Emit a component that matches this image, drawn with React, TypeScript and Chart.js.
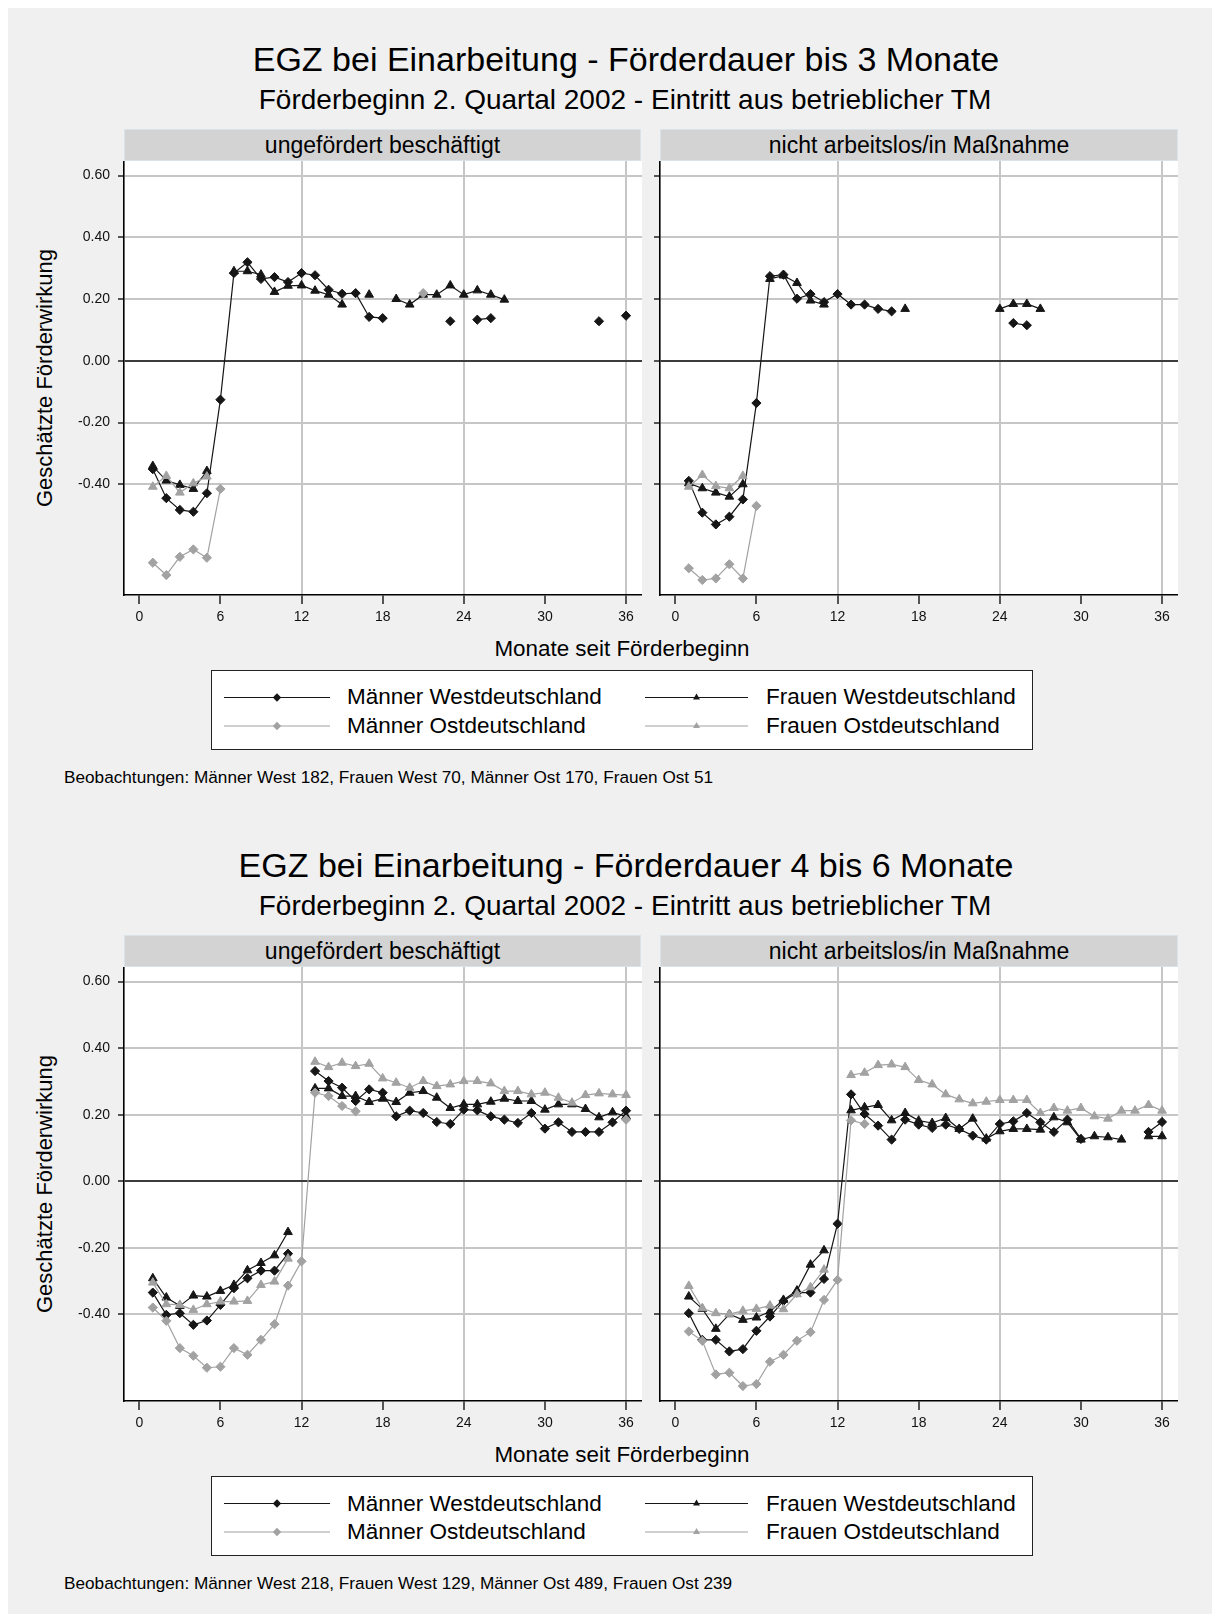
import React, { useEffect, useRef } from "react";
import { Chart, registerables } from "chart.js";
Chart.register(...registerables);

const FONT = '"Liberation Sans", Arial, Helvetica, sans-serif';

// ---------- categories / ticks ----------
const months = [1, 2, 3, 4, 5, 6, 7, 8, 9, 10, 11, 12, 13, 14, 15, 16, 17, 18, 19, 20, 21, 22, 23, 24, 25, 26, 27, 28, 29, 30, 31, 32, 33, 34, 35, 36];
const xTicks = [0, 6, 12, 18, 24, 30, 36];
const xGridAt = [12, 24, 36];
const yTicks = [-0.4, -0.2, 0, 0.2, 0.4, 0.6];
const seriesNames = ["Männer Westdeutschland", "Frauen Westdeutschland", "Männer Ostdeutschland", "Frauen Ostdeutschland"];

// ---------- Figure 1: Förderdauer bis 3 Monate ----------
// left panel: ungefördert beschäftigt
const f1L_mw = [-0.351, -0.445, -0.483, -0.489, -0.429, -0.126, 0.284, 0.319, 0.265, 0.271, 0.255, 0.284, 0.277, 0.230, 0.217, 0.219, 0.142, 0.138, null, null, null, null, 0.128, null, 0.133, 0.138, null, null, null, null, null, null, null, 0.128, null, 0.146];
const f1L_fw = [-0.341, -0.388, -0.402, -0.415, -0.357, null, 0.290, 0.290, 0.279, 0.223, 0.243, 0.244, 0.227, 0.214, 0.182, null, 0.214, null, 0.200, 0.182, 0.214, 0.214, 0.244, 0.214, 0.228, 0.214, 0.198, null, null, null, null, null, null, null, null, null];
const f1L_mo = [-0.654, -0.694, -0.635, -0.611, -0.638, -0.415, null, null, null, null, null, null, null, null, null, null, null, null, null, null, 0.219, null, null, null, null, null, null, null, null, null, null, null, null, null, null, null];
const f1L_fo = [-0.408, -0.373, -0.427, -0.397, -0.375, null, null, null, null, null, null, null, null, null, null, null, null, null, null, null, null, null, null, null, null, null, null, null, null, null, null, null, null, null, null, null];
// right panel: nicht arbeitslos/in Maßnahme
const f1R_mw = [-0.389, -0.492, -0.530, -0.505, -0.449, -0.137, 0.274, 0.279, 0.201, 0.216, 0.190, 0.216, 0.182, 0.182, 0.168, 0.160, null, null, null, null, null, null, null, null, 0.122, 0.115, null, null, null, null, null, null, null, null, null, null];
const f1R_fw = [-0.397, -0.413, -0.427, -0.440, -0.400, null, 0.265, 0.276, 0.252, 0.195, 0.182, null, null, null, null, null, 0.168, null, null, null, null, null, null, 0.168, 0.184, 0.184, 0.168, null, null, null, null, null, null, null, null, null];
const f1R_mo = [-0.672, -0.710, -0.705, -0.659, -0.705, -0.470, null, null, null, null, null, null, null, null, null, null, null, null, null, null, null, null, null, null, null, null, null, null, null, null, null, null, null, null, null, null];
const f1R_fo = [-0.408, -0.370, -0.406, -0.413, -0.373, null, null, null, null, null, null, null, null, null, null, null, null, null, null, null, null, null, null, null, null, null, null, null, null, null, null, null, null, null, null, null];

// ---------- Figure 2: Förderdauer 4 bis 6 Monate ----------
const f2L_mw = [-0.335, -0.402, -0.397, -0.432, -0.419, -0.372, -0.322, -0.292, -0.269, -0.269, -0.218, null, 0.331, 0.301, 0.281, 0.241, 0.276, 0.266, 0.195, 0.212, 0.205, 0.178, 0.172, 0.215, 0.213, 0.195, 0.185, 0.175, 0.205, 0.158, 0.177, 0.148, 0.148, 0.148, 0.177, 0.212];
const f2L_fw = [-0.292, -0.350, -0.375, -0.344, -0.347, -0.330, -0.312, -0.268, -0.246, -0.223, -0.153, null, 0.279, 0.279, 0.256, 0.256, 0.238, 0.248, 0.238, 0.266, 0.271, 0.251, 0.220, 0.231, 0.231, 0.239, 0.248, 0.241, 0.241, 0.215, 0.231, 0.231, 0.217, 0.192, 0.207, 0.195];
const f2L_mo = [-0.380, -0.420, -0.502, -0.525, -0.561, -0.558, -0.502, -0.522, -0.477, -0.430, -0.314, -0.241, 0.266, 0.256, 0.226, 0.210, null, null, null, null, null, null, null, null, null, null, null, null, null, null, null, null, null, null, null, 0.185];
const f2L_fo = [-0.305, -0.370, -0.372, -0.387, -0.370, -0.362, -0.362, -0.360, -0.312, -0.302, -0.233, null, 0.359, 0.343, 0.356, 0.346, 0.353, 0.309, 0.296, 0.281, 0.301, 0.286, 0.291, 0.301, 0.301, 0.294, 0.271, 0.271, 0.261, 0.266, 0.251, 0.236, 0.259, 0.264, 0.261, 0.259];
const f2R_mw = [-0.397, -0.477, -0.477, -0.512, -0.505, -0.450, -0.407, -0.360, -0.335, -0.335, -0.294, -0.128, 0.261, 0.202, 0.167, 0.125, 0.185, 0.170, 0.160, 0.170, 0.157, 0.137, 0.125, 0.172, 0.180, 0.205, 0.177, 0.148, 0.185, 0.127, null, null, null, null, 0.148, 0.178];
const f2R_fw = [-0.347, -0.384, -0.444, -0.400, -0.417, -0.410, -0.392, -0.357, -0.329, -0.251, -0.208, null, 0.213, 0.222, 0.229, 0.183, 0.205, 0.182, 0.175, 0.190, 0.157, 0.188, 0.128, 0.150, 0.157, 0.157, 0.155, 0.192, 0.177, 0.125, 0.135, 0.132, 0.125, null, 0.135, 0.135];
const f2R_mo = [-0.452, -0.480, -0.581, -0.576, -0.616, -0.610, -0.543, -0.522, -0.480, -0.454, -0.357, -0.297, 0.183, 0.172, null, null, null, null, null, null, null, null, null, null, null, null, null, null, null, null, null, null, null, null, null, null];
const f2R_fo = [-0.315, -0.382, -0.397, -0.400, -0.390, -0.384, -0.374, -0.385, -0.340, -0.319, -0.266, null, 0.319, 0.326, 0.349, 0.351, 0.343, 0.304, 0.291, 0.261, 0.246, 0.234, 0.239, 0.244, 0.244, 0.244, 0.205, 0.220, 0.212, 0.220, 0.195, 0.188, 0.212, 0.212, 0.229, 0.212];

// ---------- styles ----------
const BLACK = "#161616";
const GRAY = "#a2a2a2";
const styles = [
  { color: BLACK, point: "rectRot", r: 4.6 },
  { color: BLACK, point: "triangle", r: 5 },
  { color: GRAY, point: "rectRot", r: 4.6 },
  { color: GRAY, point: "triangle", r: 5 },
];

const X_AXIS_H = 40;
const PLOT_H = 434;
const X_MIN = -1.13;
const X_MAX = 37.18;

const plotBg = {
  id: "plotBg",
  beforeDraw(chart: any) {
    const { ctx, chartArea: a } = chart;
    ctx.save();
    ctx.fillStyle = "#ffffff";
    ctx.fillRect(a.left, a.top, a.right - a.left, a.bottom - a.top);
    ctx.restore();
  },
};

type PanelProps = {
  plotLeft: number;
  plotTop: number;
  plotW: number;
  yAxisW: number;
  yMin: number;
  yMax: number;
  showLabels: boolean;
  series: (number | null)[][];
};

function Panel({ plotLeft, plotTop, plotW, yAxisW, yMin, yMax, showLabels, series }: PanelProps) {
  const ref = useRef<HTMLCanvasElement>(null);
  const cw = yAxisW + plotW;
  const ch = PLOT_H + X_AXIS_H;
  useEffect(() => {
    const order = [3, 2, 1, 0];
    const datasets = order.map((k) => ({
      label: seriesNames[k],
      data: months.map((m, i) => ({ x: m, y: series[k][i] })),
      borderColor: styles[k].color,
      backgroundColor: styles[k].color,
      pointBackgroundColor: styles[k].color,
      pointBorderColor: styles[k].color,
      pointBorderWidth: 1,
      pointStyle: styles[k].point,
      pointRadius: styles[k].r,
      borderWidth: 1.2,
      tension: 0,
      spanGaps: false,
      fill: false,
    }));
    const chart = new Chart(ref.current as HTMLCanvasElement, {
      type: "line",
      data: { datasets } as any,
      options: {
        animation: false,
        responsive: false,
        maintainAspectRatio: false,
        events: [],
        layout: { padding: 0, autoPadding: false } as any,
        plugins: { legend: { display: false }, tooltip: { enabled: false }, title: { display: false } },
        scales: {
          x: {
            type: "linear",
            min: X_MIN,
            max: X_MAX,
            afterBuildTicks: (s: any) => {
              s.ticks = xTicks.map((v) => ({ value: v }));
            },
            afterFit: (s: any) => {
              s.height = X_AXIS_H;
              s.paddingLeft = 0;
              s.paddingRight = 0;
            },
            grid: {
              color: (c: any) => (c.tick && xGridAt.includes(c.tick.value) ? "#c6c6c6" : "rgba(0,0,0,0)"),
              lineWidth: 2,
              tickColor: "#000",
              tickWidth: 1.3,
              tickLength: 9,
            },
            border: { display: true, color: "#000", width: 1.6 },
            ticks: {
              padding: 5,
              color: "#111",
              font: { family: FONT, size: 14 },
              maxRotation: 0,
              autoSkip: false,
              callback: (v: any) => String(v),
            },
          },
          y: {
            type: "linear",
            min: yMin,
            max: yMax,
            afterBuildTicks: (s: any) => {
              s.ticks = yTicks.map((v) => ({ value: v }));
            },
            afterFit: (s: any) => {
              s.width = yAxisW;
              s.paddingTop = 0;
              s.paddingBottom = 0;
            },
            grid: {
              color: (c: any) => (c.tick && Math.abs(c.tick.value) < 1e-9 ? "#3c3c3c" : "#c6c6c6"),
              lineWidth: 2,
              tickColor: "#000",
              tickWidth: 1.3,
              tickLength: 6,
            },
            border: { display: true, color: "#000", width: 1.6 },
            ticks: {
              padding: 8,
              color: "#111",
              font: { family: FONT, size: 14 },
              autoSkip: false,
              callback: (v: any) => (showLabels ? Number(v).toFixed(2) : ""),
            },
          },
        },
      } as any,
      plugins: [plotBg],
    });
    return () => chart.destroy();
  }, []);
  return (
    <canvas
      ref={ref}
      width={cw}
      height={ch}
      style={{ position: "absolute", left: plotLeft - yAxisW, top: plotTop, width: cw, height: ch }}
    />
  );
}

function CText({ cx, cy, size, text }: { cx: number; cy: number; size: number; text: string }) {
  return (
    <div
      style={{
        position: "absolute",
        left: cx - 600,
        width: 1200,
        top: cy - size * 0.5,
        fontSize: size,
        lineHeight: 1,
        textAlign: "center",
        whiteSpace: "nowrap",
        color: "#000",
      }}
    >
      {text}
    </div>
  );
}

function Header({ left, top, width, text }: { left: number; top: number; width: number; text: string }) {
  return (
    <div
      style={{
        position: "absolute",
        left,
        top,
        width,
        height: 32,
        boxSizing: "border-box",
        background: "#d3d3d3",
        border: "1px solid #d9e4ea",
        display: "flex",
        alignItems: "center",
        justifyContent: "center",
        fontSize: 23,
        color: "#000",
        whiteSpace: "nowrap",
      }}
    >
      {text}
    </div>
  );
}

function LegendMarker({ kind, color, cx, cy }: { kind: string; color: string; cx: number; cy: number }) {
  if (kind === "rectRot") {
    const r = 4.2;
    return <polygon points={`${cx - r},${cy} ${cx},${cy - r} ${cx + r},${cy} ${cx},${cy + r}`} fill={color} />;
  }
  const r = 4;
  return (
    <polygon
      points={`${cx},${cy - r} ${cx + r * 0.866},${cy + r * 0.5} ${cx - r * 0.866},${cy + r * 0.5}`}
      fill={color}
    />
  );
}

type FigureProps = {
  dy: number;
  title: string;
  subtitle: string;
  yMin: number;
  yMax: number;
  left: (number | null)[][];
  right: (number | null)[][];
  note: string;
};

function Figure({ dy, title, subtitle, yMin, yMax, left, right, note }: FigureProps) {
  const legendTop = 670 + dy;
  const svgTop = legendTop - 10;
  const rows = [
    [0, 1],
    [2, 3],
  ];
  const colLine = [
    [224, 330],
    [645, 748],
  ];
  const colText = [347, 766];
  const rowY = [697.5 + dy, 726 + dy];
  return (
    <>
      <CText cx={626} cy={58.5 + dy} size={34} text={title} />
      <CText cx={625} cy={99.5 + dy} size={28} text={subtitle} />
      <Header left={124} top={129 + dy} width={517} text="ungefördert beschäftigt" />
      <Header left={660} top={129 + dy} width={518} text="nicht arbeitslos/in Maßnahme" />
      <Panel plotLeft={124} plotTop={161 + dy} plotW={518} yAxisW={64} yMin={yMin} yMax={yMax} showLabels={true} series={left} />
      <Panel plotLeft={660} plotTop={161 + dy} plotW={518} yAxisW={10} yMin={yMin} yMax={yMax} showLabels={false} series={right} />
      <div
        style={{
          position: "absolute",
          left: 44.5 - 200,
          top: 378 + dy - 11,
          width: 400,
          height: 22,
          lineHeight: "22px",
          fontSize: 22,
          textAlign: "center",
          transform: "rotate(-90deg)",
          whiteSpace: "nowrap",
          color: "#000",
        }}
      >
        Geschätzte Förderwirkung
      </div>
      <CText cx={622} cy={649 + dy} size={22.4} text="Monate seit Förderbeginn" />
      <div
        style={{
          position: "absolute",
          left: 211,
          top: legendTop,
          width: 822,
          height: 80,
          boxSizing: "border-box",
          background: "#fff",
          border: "1px solid #222",
        }}
      />
      <svg width={1212} height={100} style={{ position: "absolute", left: 0, top: svgTop, overflow: "visible" }}>
        {rows.map((row, ri) =>
          row.map((k, ci) => {
            const y = rowY[ri] - svgTop;
            const [x1, x2] = colLine[ci];
            return (
              <g key={`${ri}-${ci}`}>
                <line x1={x1} x2={x2} y1={y} y2={y} stroke={styles[k].color} strokeWidth={1.2} />
                <LegendMarker kind={styles[k].point} color={styles[k].color} cx={(x1 + x2) / 2} cy={y} />
              </g>
            );
          })
        )}
      </svg>
      {rows.map((row, ri) =>
        row.map((k, ci) => (
          <div
            key={`t${ri}-${ci}`}
            style={{
              position: "absolute",
              left: colText[ci],
              top: rowY[ri] - 11.25,
              fontSize: 22.5,
              lineHeight: 1,
              whiteSpace: "nowrap",
              color: "#000",
            }}
          >
            {seriesNames[k]}
          </div>
        ))
      )}
      <div
        style={{
          position: "absolute",
          left: 64,
          top: 777.5 + dy - 8.6,
          fontSize: 17.2,
          lineHeight: 1,
          whiteSpace: "nowrap",
          color: "#000",
        }}
      >
        {note}
      </div>
    </>
  );
}

export default function App() {
  return (
    <div style={{ position: "absolute", left: 0, top: 0, width: 1212, height: 1614, overflow: "hidden", fontFamily: FONT }}>
      <div style={{ position: "absolute", left: 8, top: 8, width: 1204, height: 1606, background: "#f0f0f0" }} />
      <Figure
        dy={0}
        title="EGZ bei Einarbeitung - Förderdauer bis 3 Monate"
        subtitle="Förderbeginn 2. Quartal 2002 - Eintritt aus betrieblicher TM"
        yMin={-0.7586}
        yMax={0.647}
        left={[f1L_mw, f1L_fw, f1L_mo, f1L_fo]}
        right={[f1R_mw, f1R_fw, f1R_mo, f1R_fo]}
        note="Beobachtungen: Männer West 182, Frauen West 70, Männer Ost 170, Frauen Ost 51"
      />
      <Figure
        dy={806.3}
        title="EGZ bei Einarbeitung - Förderdauer 4 bis 6 Monate"
        subtitle="Förderbeginn 2. Quartal 2002 - Eintritt aus betrieblicher TM"
        yMin={-0.661}
        yMax={0.644}
        left={[f2L_mw, f2L_fw, f2L_mo, f2L_fo]}
        right={[f2R_mw, f2R_fw, f2R_mo, f2R_fo]}
        note="Beobachtungen: Männer West 218, Frauen West 129, Männer Ost 489, Frauen Ost 239"
      />
    </div>
  );
}
